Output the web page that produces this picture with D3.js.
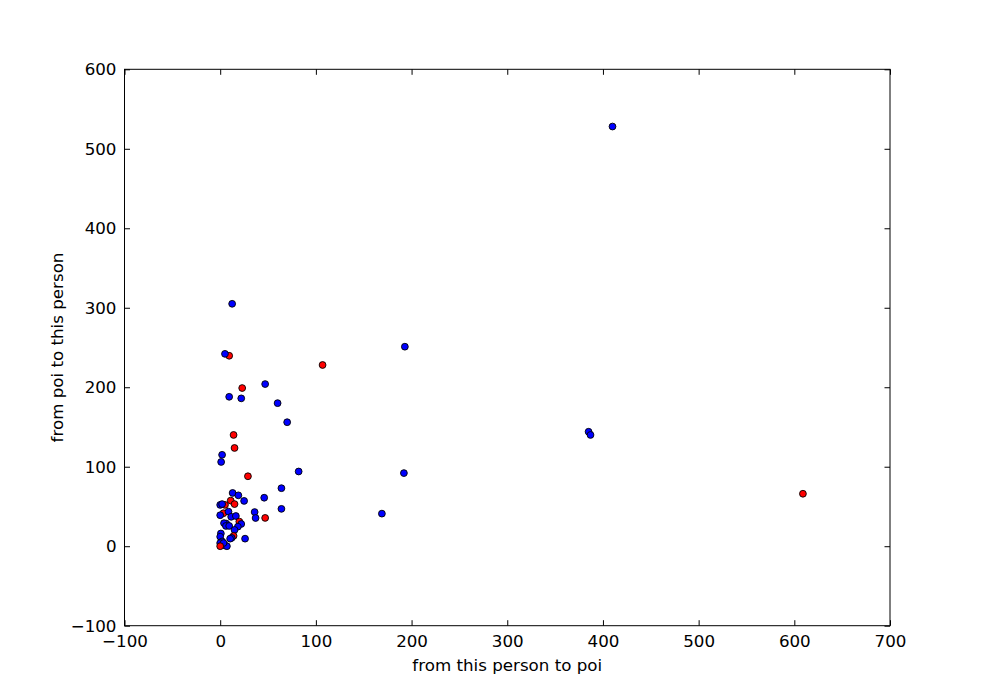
<!DOCTYPE html>
<html>
<head>
<meta charset="utf-8">
<script src="https://cdn.jsdelivr.net/npm/d3@7"></script>
<style>
  body { margin: 0; background: #fff; }
  svg { display: block; }
  text { font-family: "DejaVu Sans", sans-serif; }
</style>
</head>
<body>
<svg id="chart" width="988" height="696"></svg>
<script>
// from_this_person_to_poi values
const fromThisPersonToPoi = [
  9.4, 5, 12.5, 410, 193, 107, 47, 23, 9.4, 22, 60, 70, 385, 387, 14, 15, 2, 1,
  29, 82, 192, 64, 169, 64, 46, 36, 37, 47, 13, 19, 25, 11, 15, 5, 0, 2,
  3.4, 0, 8.7, 11.5, 16.4, 20, 22, 18.5, 6.3, 4, 6, 9.4, 15, 14, 12, 0.7, 0,
  2, 10.4, 26, 0, 5, 7, 3.5, 0, 609
];
// from_poi_to_this_person values
const fromPoiToThisPerson = [
  239.6, 242, 305, 528, 251, 228, 204, 199, 188, 186, 180, 156, 144, 140, 140, 123.6, 115, 106,
  88, 94, 92, 73, 41, 47, 61, 43, 35.5, 35.6, 67, 64, 57, 57.4, 53, 52, 52, 53,
  41.5, 39, 43.5, 37, 38, 31, 28, 24.6, 28.5, 29, 25.5, 25.5, 20.5, 13, 10.5, 16, 12,
  6, 9.5, 9.5, 4, 1, 0, 4, 0, 66
];
// person of interest flags (true = red)
const isPoi = [
  true, false, false, false, false, true, false, true, false, false, false, false, false, false, true, true, false, false,
  true, false, false, false, false, false, false, false, false, true, false, false, false, true, true, true, false, false,
  true, false, false, false, false, true, false, false, false, false, false, false, false, true, false, false, false,
  false, false, false, false, false, false, false, true, true
];
const xTicks = [-100, 0, 100, 200, 300, 400, 500, 600, 700];
const yTicks = [-100, 0, 100, 200, 300, 400, 500, 600];

const svg = d3.select("#chart");
const pLeft = 124.5, pRight = 890, pTop = 69.3, pBottom = 625.7;

const x = d3.scaleLinear().domain([-100, 700]).range([pLeft, pRight]);
const y = d3.scaleLinear().domain([-100, 600]).range([pBottom, pTop]);

const tickLen = 5.5;
const fs = "16.7px";

// points
const pts = fromThisPersonToPoi.map((v, i) => ({ x: v, y: fromPoiToThisPerson[i], poi: isPoi[i] }));
svg.append("g").selectAll("circle").data(pts).join("circle")
  .attr("cx", d => x(d.x))
  .attr("cy", d => y(d.y))
  .attr("r", 3.4)
  .attr("fill", d => d.poi ? "#ff0000" : "#0000ff")
  .attr("stroke", "#000")
  .attr("stroke-width", 0.9);

// axes (ticks inward)
const fmt = d => d3.format("d")(d).replace("-", "\u2212");
const xb = d3.axisBottom(x).tickValues(xTicks).tickSize(-tickLen).tickPadding(9).tickFormat(fmt);
const xt = d3.axisTop(x).tickValues(xTicks).tickSize(-tickLen).tickFormat("");
const yl = d3.axisLeft(y).tickValues(yTicks).tickSize(-tickLen).tickPadding(8).tickFormat(fmt);
const yr = d3.axisRight(y).tickValues(yTicks).tickSize(-tickLen).tickFormat("");

function style(g) {
  g.select(".domain").remove();
  g.selectAll("line").attr("stroke", "#000").attr("stroke-width", 1);
  g.selectAll("text").attr("fill", "#000").style("font-size", fs).style("font-family", "DejaVu Sans, sans-serif");
}
svg.append("g").attr("transform", `translate(0,${pBottom})`).call(xb).call(style);
svg.append("g").attr("transform", `translate(0,${pTop})`).call(xt).call(style);
svg.append("g").attr("transform", `translate(${pLeft},0)`).call(yl).call(style);
svg.append("g").attr("transform", `translate(${pRight},0)`).call(yr).call(style);

svg.append("rect")
  .attr("x", pLeft).attr("y", pTop)
  .attr("width", pRight - pLeft).attr("height", pBottom - pTop)
  .attr("fill", "none").attr("stroke", "#000").attr("stroke-width", 1);

// axis labels
svg.append("text")
  .attr("x", (pLeft + pRight) / 2).attr("y", 671)
  .attr("text-anchor", "middle").style("font-size", fs)
  .text("from this person to poi");
svg.append("text")
  .attr("transform", `translate(63,${(pTop + pBottom) / 2}) rotate(-90)`)
  .attr("text-anchor", "middle").style("font-size", fs)
  .text("from poi to this person");
</script>
</body>
</html>
